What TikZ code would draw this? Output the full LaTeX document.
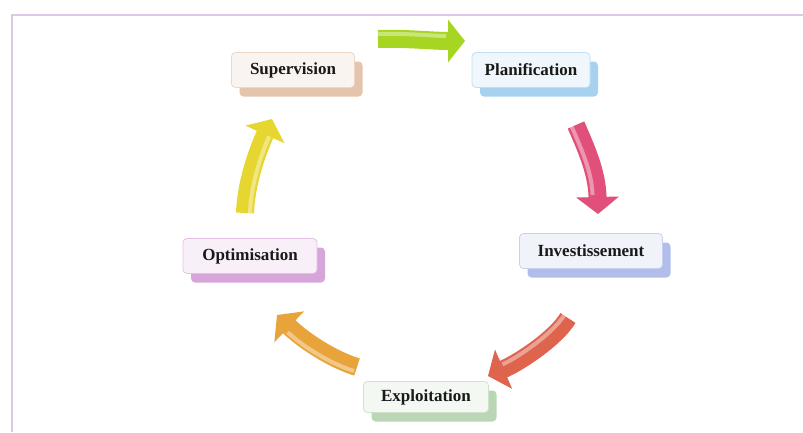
\documentclass[tikz,border=0pt]{standalone}
\usepackage{fontspec}
\setmainfont{Liberation Serif}
\usetikzlibrary{arrows.meta,shadows}

\definecolor{frameC}{HTML}{E0C6E6}
\definecolor{supC}{HTML}{E4C4AC}
\definecolor{plaC}{HTML}{A6D2F0}
\definecolor{invC}{HTML}{B2BEEA}
\definecolor{optC}{HTML}{D6A6DA}
\definecolor{expC}{HTML}{BAD6B4}
\definecolor{greenA}{HTML}{A6D622}
\definecolor{pinkA}{HTML}{E0507A}
\definecolor{redA}{HTML}{DE644E}
\definecolor{orangeA}{HTML}{E8A43A}
\definecolor{yellowA}{HTML}{E6D630}

\tikzset{
  stage/.style={rounded corners=4pt, font=\bfseries\fontsize{17}{20}\selectfont,
    inner sep=0pt, minimum height=35pt, text=black!90,
    draw=#1!70, line width=0.8pt, fill=#1!18,
    general shadow={shadow xshift=8pt, shadow yshift=-9pt, fill=#1, draw=none}},
  bigarrow/.style={draw=#1, line width=18pt, -{Triangle[width=42pt,length=17pt,fill=#1]}},
  shine/.style={white, opacity=.4, line width=4pt, shorten >=19pt},
}

\begin{document}
\begin{tikzpicture}[x=1pt,y=-1pt]
  \useasboundingbox (0,0) rectangle (803,432);

  % frame lines at top and left
  \draw[frameC, line width=2pt] (803,15) -- (12,15) -- (12,432);

  % stages of the cycle
  \node[stage=supC, minimum width=123pt] (sup) at (293,70) {Supervision};
  \node[stage=plaC, minimum width=118pt] (pla) at (531,70) {Planification};
  \node[stage=invC, minimum width=143pt] (inv) at (591,251) {Investissement};
  \node[stage=optC, minimum width=134pt] (opt) at (250,256) {Optimisation};
  \node[stage=expC, minimum width=125pt, minimum height=31pt] (exp) at (426,397) {Exploitation};

  % arrow end points
  \coordinate (g1) at (378,39);  \coordinate (g2) at (465,41);
  \coordinate (p1) at (576,125); \coordinate (p2) at (598,214);
  \coordinate (r1) at (568,318); \coordinate (r2) at (488,376);
  \coordinate (o1) at (357,367); \coordinate (o2) at (277,315);
  \coordinate (y1) at (245,213); \coordinate (y2) at (272,119);

  % Supervision -> Planification
  \draw[bigarrow=greenA] (g1) .. controls (405,38) and (432,41) .. (g2);
  \draw[shine] ([yshift=5pt]g1) .. controls ([yshift=5pt]405,38) and ([yshift=5pt]432,41) .. ([yshift=5pt]g2);

  % Planification -> Investissement
  \draw[bigarrow=pinkA] (p1) .. controls (586,148) and (597,172) .. (p2);
  \draw[shine] ([xshift=-5pt]p1) .. controls ([xshift=-5pt]586,148) and ([xshift=-5pt]597,172) .. ([xshift=-5pt]p2);

  % Investissement -> Exploitation
  \draw[bigarrow=redA] (r1) .. controls (556,338) and (520,362) .. (r2);
  \draw[shine] ([shift={(-3pt,4pt)}]r1) .. controls ([shift={(-3pt,4pt)}]556,338) and ([shift={(-3pt,4pt)}]520,362) .. ([shift={(-3pt,4pt)}]r2);

  % Exploitation -> Optimisation
  \draw[bigarrow=orangeA] (o1) .. controls (334,360) and (305,342) .. (o2);
  \draw[shine] ([shift={(-3pt,-4pt)}]o1) .. controls ([shift={(-3pt,-4pt)}]334,360) and ([shift={(-3pt,-4pt)}]305,342) .. ([shift={(-3pt,-4pt)}]o2);

  % Optimisation -> Supervision
  \draw[bigarrow=yellowA] (y1) .. controls (246,182) and (258,150) .. (y2);
  \draw[shine] ([xshift=5pt]y1) .. controls ([xshift=5pt]246,182) and ([xshift=5pt]258,150) .. ([xshift=5pt]y2);
\end{tikzpicture}
\end{document}
